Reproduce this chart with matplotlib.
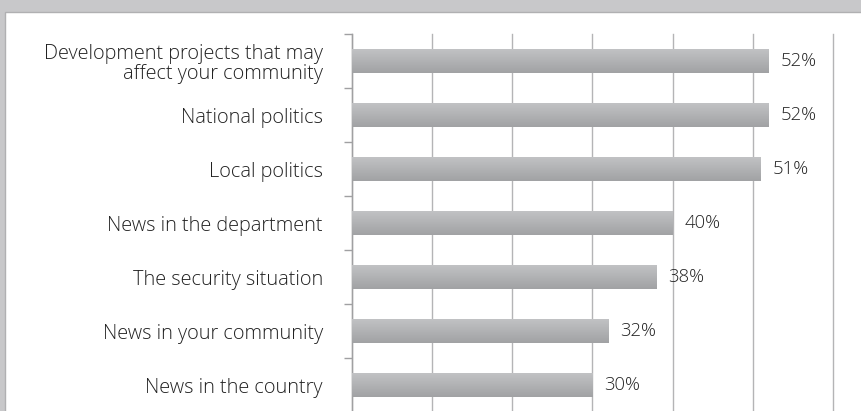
import numpy as np
import matplotlib
matplotlib.use("Agg")
import matplotlib.pyplot as plt
from matplotlib.patches import Rectangle
from matplotlib.colors import LinearSegmentedColormap

# Share of respondents interested in each kind of news
categories = [
    "Development projects that may\naffect your community",
    "National politics",
    "Local politics",
    "News in the department",
    "The security situation",
    "News in your community",
    "News in the country",
]
values = [52, 52, 51, 40, 38, 32, 30]
value_labels = ["52%", "52%", "51%", "40%", "38%", "32%", "30%"]

plt.rcParams["font.family"] = ["Open Sans", "DejaVu Sans"]
plt.rcParams["font.weight"] = "light"
TEXT = "#222222"
FS_CAT = 14.3
FS_VAL = 13.3

fig = plt.figure(figsize=(8.62, 4.11), dpi=100, facecolor="#c8c8ca")

# White panel behind the chart
panel = Rectangle((5 / 862, -0.05), 1.1, (411 - 12) / 411 + 0.05,
                  transform=fig.transFigure, facecolor="white",
                  edgecolor="#b0b0b2", linewidth=1.0, zorder=-10)
fig.patches.append(panel)

ax = fig.add_axes([352 / 862, (411 - 412) / 411, 481 / 862, 378 / 411])
ax.set_facecolor("none")
ax.set_zorder(1)

n = len(categories)
ypos = np.arange(n)
bar_h = 0.43

bars = ax.barh(ypos, values, height=bar_h, color="none", edgecolor="none", zorder=3)

# Vertical gradient fill for each bar (lighter on top, darker below)
grad_cmap = LinearSegmentedColormap.from_list("bargrad", ["#c1c2c4", "#a1a2a4"])
grad = np.linspace(0, 1, 64).reshape(-1, 1)
for bar in bars:
    x0, y0 = bar.get_x(), bar.get_y()
    w, h = bar.get_width(), bar.get_height()
    im = ax.imshow(grad, cmap=grad_cmap, aspect="auto",
                   extent=(x0, x0 + w, y0 + h, y0), origin="upper",
                   interpolation="bilinear", zorder=3)
    im.set_clip_path(bar)

for y, v, lab in zip(ypos, values, value_labels):
    ax.annotate(lab, xy=(v, y), xytext=(8.5, 0), textcoords="offset points",
                ha="left", va="center", fontsize=FS_VAL, color=TEXT, zorder=4)

ax.set_xlim(0, 60)
ax.set_ylim(n - 0.5, -0.5)

# Vertical gridlines every 10 points
ax.set_xticks(np.arange(0, 61, 10))
ax.xaxis.grid(True, color="#b4b4b6", linewidth=1.0, zorder=1)
ax.tick_params(axis="x", length=0, labelbottom=False)
ax.set_axisbelow(True)
for gl in ax.get_xgridlines():
    gl.set_clip_on(False)

# Category labels at band centres, tick marks at band boundaries
ax.set_yticks(ypos)
ax.set_yticklabels(categories, fontsize=FS_CAT, color=TEXT, linespacing=1.05)
for t in ax.get_yticklabels():
    t.set_horizontalalignment("right")
    t.set_multialignment("right")
ax.tick_params(axis="y", which="major", length=0, pad=21)
ax.set_yticks(np.arange(-0.5, n, 1.0), minor=True)
ax.tick_params(axis="y", which="minor", length=6, width=1.0, color="#a0a0a2")

for side in ("top", "right", "bottom"):
    ax.spines[side].set_visible(False)
ax.spines["left"].set_color("#a0a0a2")
ax.spines["left"].set_linewidth(1.0)

fig.savefig("out.png", dpi=100, facecolor=fig.get_facecolor())
